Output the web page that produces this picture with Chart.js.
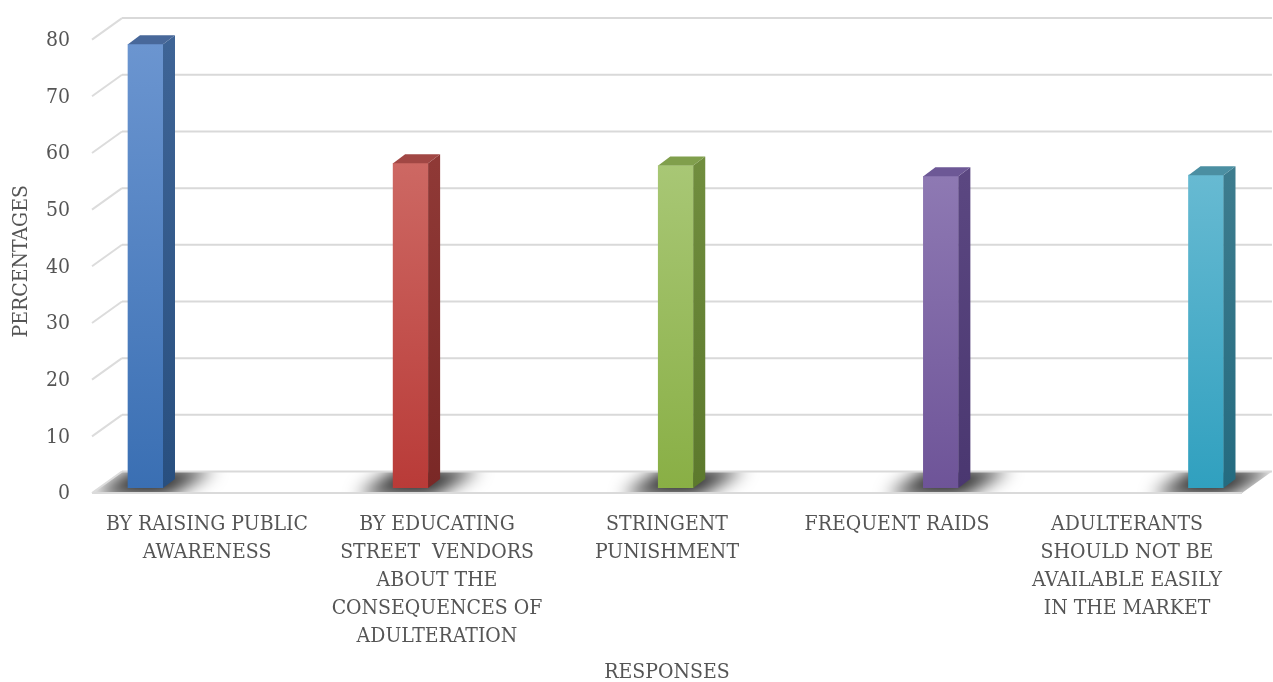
<!DOCTYPE html>
<html>
<head>
<meta charset="utf-8">
<script src="https://cdn.jsdelivr.net/npm/chart.js@4"></script>
<style>
  html, body { margin: 0; padding: 0; background: #fff; }
  #wrap { width: 1273px; height: 682px; position: relative; }
</style>
</head>
<body>
<div id="wrap"><canvas id="responsesChart"></canvas></div>
<script>
const categories = [
  ["BY RAISING PUBLIC", "AWARENESS"],
  ["BY EDUCATING", "STREET  VENDORS", "ABOUT THE", "CONSEQUENCES OF", "ADULTERATION"],
  ["STRINGENT", "PUNISHMENT"],
  ["FREQUENT RAIDS"],
  ["ADULTERANTS", "SHOULD NOT BE", "AVAILABLE EASILY", "IN THE MARKET"]
];
const percentages = [78.3, 57.3, 56.9, 55.0, 55.2];
const yMin = 0;
const yMax = 80;
const yStep = 10;

// front face gradient (top, bottom), side face gradient (top, bottom), top face
const frontColors = [
  ["#6b95d0", "#3a6fb3"],
  ["#cd6863", "#b93b38"],
  ["#a8c775", "#89af45"],
  ["#8e79b3", "#6e5498"],
  ["#67bad2", "#30a0bf"]
];
const sideColors = [
  ["#3e6496", "#284f7f"],
  ["#8f3936", "#7a2826"],
  ["#708d3e", "#5c792c"],
  ["#5b4781", "#4a3770"],
  ["#3d7c8e", "#246b80"]
];
const topColors = ["#48689a", "#a14744", "#809f4c", "#6d5896", "#4b8fa2"];

const FONT = "'DejaVu Serif Condensed', 'Liberation Serif', serif";
const TEXT = "#555555";

// 3D box geometry
const FRONT_DY = 5;                    // floor front edge below the bar plane
const BACK = { dx: 30, dy: -21.5 };    // back wall offset from the front edge
const BAR_DEPTH = { dx: 12, dy: -9 };  // side/top face depth of each bar

function poly(ctx, pts) {
  ctx.beginPath();
  ctx.moveTo(pts[0][0], pts[0][1]);
  for (let i = 1; i < pts.length; i++) ctx.lineTo(pts[i][0], pts[i][1]);
  ctx.closePath();
}

const box3d = {
  id: "box3d",
  beforeDatasetsDraw(chart) {
    const { ctx, chartArea } = chart;
    const y = chart.scales.y;
    const x0 = chartArea.left, x1 = chartArea.right;
    const front = (v) => y.getPixelForValue(v) + FRONT_DY;
    const f0 = front(0);
    const floor = [
      [x0, f0], [x1, f0],
      [x1 + BACK.dx, f0 + BACK.dy], [x0 + BACK.dx, f0 + BACK.dy]
    ];

    ctx.save();
    poly(ctx, floor);
    ctx.fillStyle = "#fff";
    ctx.fill();

    // shadows cast on the floor
    ctx.save();
    poly(ctx, floor);
    ctx.clip();
    chart.getDatasetMeta(0).data.forEach((bar) => {
      const { x, width } = bar.getProps(["x", "width"], true);
      const l = x - width / 2, r = x + width / 2;
      ctx.filter = "blur(9px)";
      ctx.fillStyle = "rgba(0,0,0,0.85)";
      poly(ctx, [
        [l - 36, f0 + 3], [r + 4, f0 + 3],
        [r + 52, f0 + BACK.dy - 3], [l + 6, f0 + BACK.dy - 3]
      ]);
      ctx.fill();
    });
    ctx.restore();

    ctx.lineWidth = 2;
    ctx.strokeStyle = "#dadada";
    ctx.beginPath();
    ctx.moveTo(x0, f0);
    ctx.lineTo(x1, f0);
    ctx.stroke();

    // side wall stubs and back wall gridlines
    y.ticks.forEach((t) => {
      const yf = front(t.value);
      const yb = yf + BACK.dy;
      ctx.strokeStyle = "#dcdcdc";
      ctx.beginPath();
      ctx.moveTo(x0, yf);
      ctx.lineTo(x0 + BACK.dx, yb);
      ctx.stroke();
      ctx.strokeStyle = "#d9d9d9";
      ctx.beginPath();
      ctx.moveTo(x0 + BACK.dx, yb);
      ctx.lineTo(x1 + BACK.dx, yb);
      ctx.stroke();
    });
    ctx.restore();
  },
  afterDatasetsDraw(chart) {
    const { ctx } = chart;
    const { dx, dy } = BAR_DEPTH;
    ctx.save();
    chart.getDatasetMeta(0).data.forEach((bar, i) => {
      const { x, y, base, width } = bar.getProps(["x", "y", "base", "width"], true);
      const l = x - width / 2, r = x + width / 2;
      const g = ctx.createLinearGradient(0, y, 0, base);
      g.addColorStop(0, sideColors[i][0]);
      g.addColorStop(1, sideColors[i][1]);
      ctx.fillStyle = g;
      poly(ctx, [[r, y], [r + dx, y + dy], [r + dx, base + dy], [r, base]]);
      ctx.fill();
      ctx.fillStyle = topColors[i];
      poly(ctx, [[l, y], [l + dx, y + dy], [r + dx, y + dy], [r, y]]);
      ctx.fill();
    });
    ctx.restore();
  }
};

function frontFill(context) {
  const chart = context.chart;
  const i = context.dataIndex;
  const y = chart.scales.y;
  if (!chart.chartArea || !y || !context.parsed) return frontColors[i][1];
  const top = y.getPixelForValue(context.parsed.y);
  const bottom = y.getPixelForValue(0);
  const g = chart.ctx.createLinearGradient(0, top, 0, bottom);
  g.addColorStop(0, frontColors[i][0]);
  g.addColorStop(1, frontColors[i][1]);
  return g;
}

new Chart(document.getElementById("responsesChart"), {
  type: "bar",
  data: {
    labels: categories,
    datasets: [{
      data: percentages.map((v, i) => ({ x: i, y: v })),
      xAxisID: "xb",
      yAxisID: "y",
      backgroundColor: frontFill,
      borderWidth: 0,
      barThickness: 35
    }]
  },
  plugins: [box3d],
  options: {
    responsive: true,
    maintainAspectRatio: false,
    devicePixelRatio: 1,
    animation: false,
    layout: { padding: { top: 30, right: 31, left: 0, bottom: 0 } },
    plugins: { legend: { display: false }, tooltip: { enabled: false } },
    scales: {
      x: {
        type: "category",
        grid: { display: false, drawTicks: false },
        border: { display: false },
        ticks: {
          color: TEXT,
          font: { family: FONT, size: 21, lineHeight: 1.333 },
          padding: 23,
          maxRotation: 0,
          autoSkip: false
        },
        title: {
          display: true,
          text: "RESPONSES",
          color: TEXT,
          font: { family: FONT, size: 21, lineHeight: "18px" },
          padding: { top: 0, bottom: 0 }
        },
        afterFit: (scale) => { scale.height = 194; }
      },
      xb: {
        type: "linear",
        display: false,
        offset: false,
        grid: { offset: false },
        min: -0.2018,
        max: 4.1358
      },
      y: {
        min: yMin,
        max: yMax,
        grid: { display: false, drawTicks: false },
        border: { display: false },
        ticks: {
          stepSize: yStep,
          color: TEXT,
          font: { family: FONT, size: 21 },
          padding: 22,
          labelOffset: 6
        },
        title: {
          display: true,
          text: "PERCENTAGES",
          color: TEXT,
          font: { family: FONT, size: 21, lineHeight: 1.2 },
          padding: { top: 9, bottom: 0 }
        },
        afterFit: (scale) => { scale.width = 92; }
      }
    }
  }
});
</script>
</body>
</html>
